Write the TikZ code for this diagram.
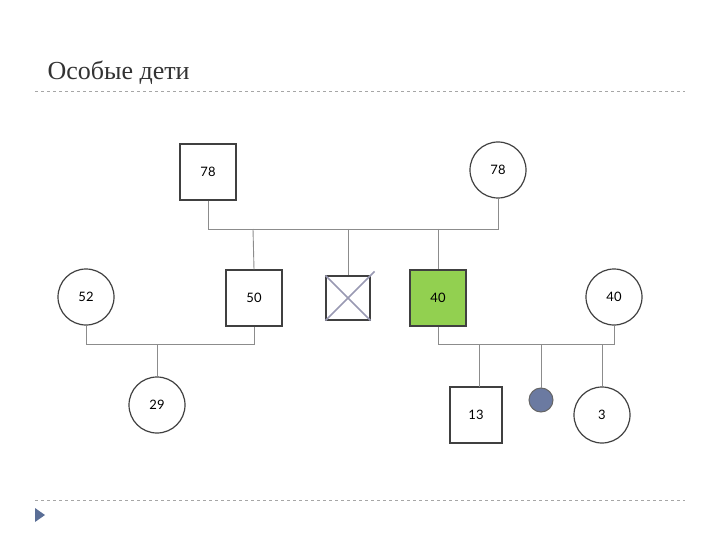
\documentclass[tikz,border=0pt]{standalone}
\usepackage{fontspec}
\setmainfont{Lato}
\newfontfamily\titlefont{Liberation Serif}
\begin{document}
\begin{tikzpicture}[x=1pt,y=-1pt,
  sq/.style={draw=black!75,line width=1.2pt,minimum width=56pt,minimum height=56pt,inner sep=0pt,font=\fontsize{13}{13}\selectfont},
  ci/.style={draw=black!75,line width=1.2pt,circle,minimum size=56pt,inner sep=0pt,font=\fontsize{13}{13}\selectfont},
  ln/.style={draw=black!45,line width=0.9pt}]
\useasboundingbox (0,0) rectangle (720,540);
\node[anchor=base west,font=\titlefont\fontsize{26}{26}\selectfont,text=black!80] (t) at (44,80) {Особые дети};
\draw[black!35,dashed,line width=0.7pt] (35,91) -- (685,91);
\draw[black!35,dashed,line width=0.7pt] (35,500) -- (685,500);
\fill[fill={rgb,255:red,90;green,110;blue,150}] (35,508) -- (45,515) -- (35,522) -- cycle;
\node[sq] (f) at (208,172) {78};
\node[ci] (m) at (498,170) {78};
\node[sq] (s50) at (254,298) {50};
\node[sq,minimum width=44pt,minimum height=44pt] (x) at (348,298) {};
\draw[black!75!blue!40!white,line width=1.5pt] (x.north west) -- (x.south east);
\draw[black!75!blue!40!white,line width=1.5pt] (x.south west) -- ([shift={(4,-4)}]x.north east);
\node[sq,fill={rgb,255:red,146;green,208;blue,80}] (g) at (438,298) {40};
\node[ci] (w52) at (86,297) {52};
\node[ci] (w40) at (614,297) {40};
\node[ci] (c29) at (157,405) {29};
\node[sq,minimum width=52pt] (c13) at (476,415) {13};
\node[circle,draw=black!60,line width=1pt,fill={rgb,255:red,107;green,122;blue,161},minimum size=24pt,inner sep=0pt] (d) at (541,400) {};
\node[ci] (c3) at (602,415) {3};
\coordinate (j1) at (208,229); \coordinate (j2) at (498,229);
\draw[ln] (f.south) -- (j1) -- (j2) -- (m.south);
\draw[ln] (253,229) -- (s50.north);
\draw[ln] (348,229) -- (x.north);
\draw[ln] (438,229) -- (g.north);
\draw[ln] (w52.south) -- (86,344) -- (254,344) -- (s50.south);
\draw[ln] (157,344) -- (c29.north);
\draw[ln] (g.south) -- (438,344) -- (614,344) -- (w40.south);
\draw[ln] (479,344) -- (479,387);
\draw[ln] (541,344) -- (d.north);
\draw[ln] (602,344) -- (c3.north);
\end{tikzpicture}
\end{document}
